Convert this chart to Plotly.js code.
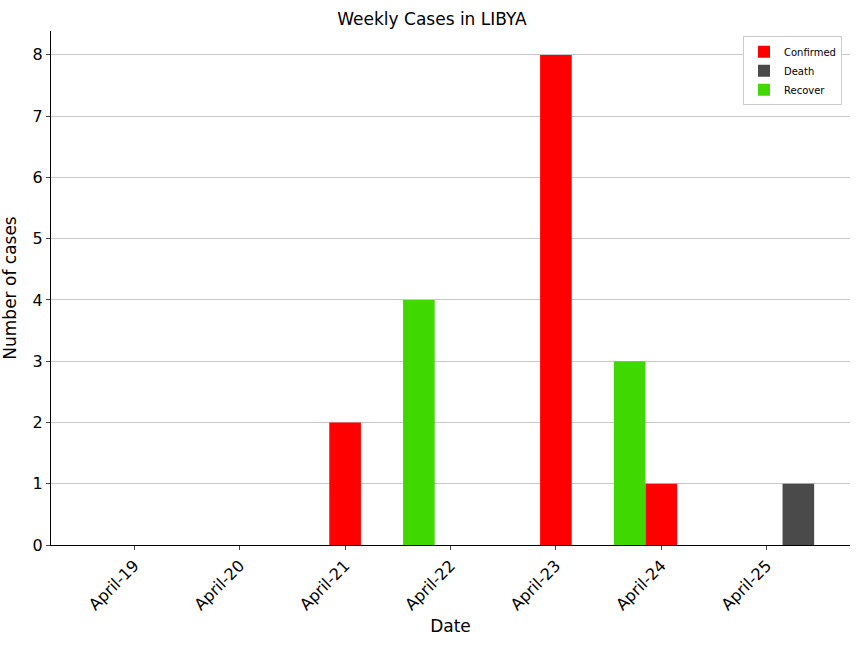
<!DOCTYPE html>
<html>
<head>
<script src="https://cdn.plot.ly/plotly-3.0.1.min.js"></script>
<style>body{margin:0}</style>
</head>
<body>
<div id="chart" style="width:864px;height:648px"></div>
<script>
var dates = ["April-19", "April-20", "April-21", "April-22", "April-23", "April-24", "April-25"];
var confirmed = [0, 0, 2, 0, 8, 1, 0];
var death = [0, 0, 0, 0, 0, 0, 1];
var recover = [0, 0, 0, 4, 0, 3, 0];

var data = [
  {x: dates, y: recover, name: "Recover", type: "bar", marker: {color: "#3fd800"}, legendrank: 3},
  {x: dates, y: confirmed, name: "Confirmed", type: "bar", marker: {color: "#ff0000"}, legendrank: 1},
  {x: dates, y: death, name: "Death", type: "bar", marker: {color: "#4a4a4a"}, legendrank: 2}
];

var layout = {
  width: 864, height: 648,
  margin: {l: 51, r: 14, t: 31, b: 103},
  font: {family: "DejaVu Sans", color: "#000"},
  title: {text: "Weekly Cases in LIBYA", font: {size: 17}, y: 0.97, yanchor: "middle"},
  barmode: "group", bargap: 0.1, bargroupgap: 0,
  plot_bgcolor: "#fff", paper_bgcolor: "#fff",
  xaxis: {
    title: {text: "Date", font: {size: 17}},
    tickangle: -45, tickfont: {size: 16},
    range: [-0.79, 6.79], showline: true, linecolor: "#000",
    ticks: "outside", ticklen: 4, showgrid: false
  },
  yaxis: {
    title: {text: "Number of cases", font: {size: 17}},
    tickfont: {size: 16}, range: [0, 8.39], dtick: 1,
    showline: true, linecolor: "#000", ticks: "outside", ticklen: 4,
    showgrid: true, gridcolor: "#c8c8c8", zeroline: false
  },
  legend: {
    x: 0.99, y: 0.99, xanchor: "right", yanchor: "top",
    font: {size: 10}, bordercolor: "#ccc", borderwidth: 1, bgcolor: "#fff"
  }
};

Plotly.newPlot("chart", data, layout, {displayModeBar: false});
</script>
</body>
</html>
